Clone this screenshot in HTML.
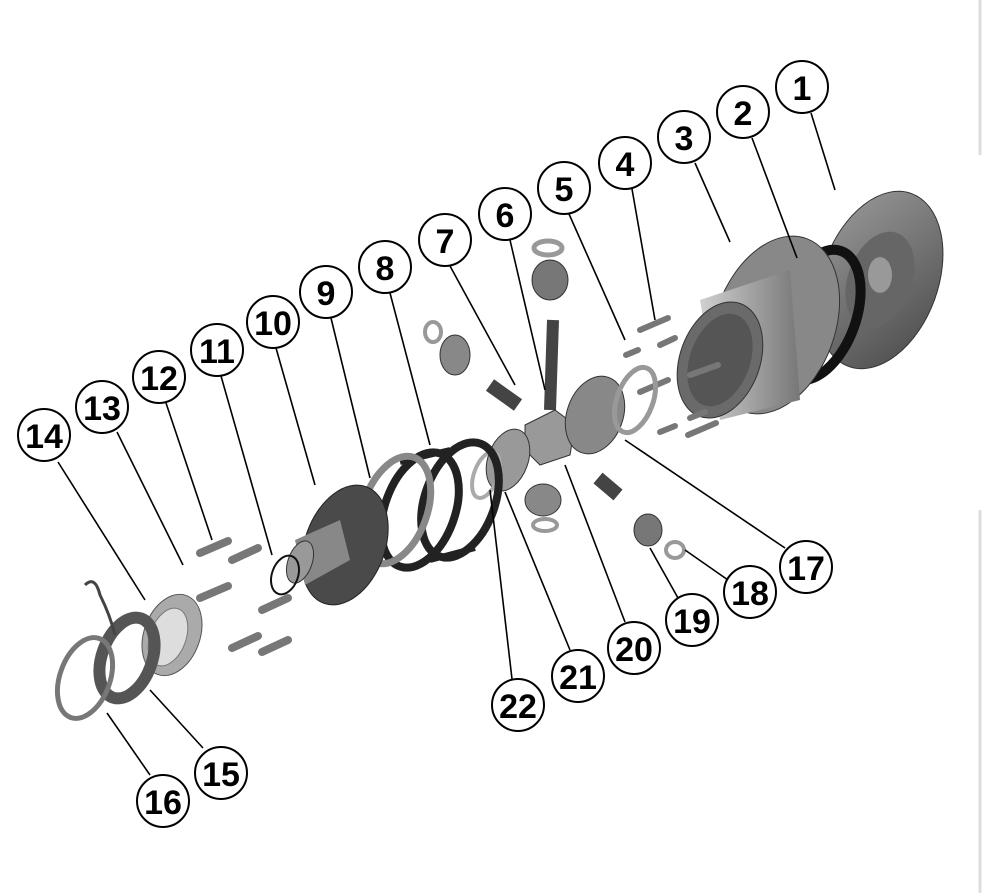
<!DOCTYPE html>
<html><head><meta charset="utf-8"><style>
html,body{margin:0;padding:0;background:#fff;width:982px;height:893px;overflow:hidden}
svg{display:block}
text{font-family:"Liberation Sans",Arial,sans-serif;font-weight:bold;font-size:34px;text-anchor:middle}
</style></head><body>
<svg width="982" height="893" viewBox="0 0 982 893">
<defs>
<linearGradient id="g1" x1="0" y1="0" x2="1" y2="1"><stop offset="0" stop-color="#9a9a9a"/><stop offset="1" stop-color="#4a4a4a"/></linearGradient>
<linearGradient id="g2" x1="0" y1="0" x2="1" y2="0"><stop offset="0" stop-color="#d0d0d0"/><stop offset="1" stop-color="#777"/></linearGradient>
</defs>
<line x1="980" y1="0" x2="980" y2="155" stroke="#ddd" stroke-width="3"/>
<line x1="980" y1="510" x2="980" y2="893" stroke="#ddd" stroke-width="3"/>
<ellipse cx="880" cy="280" rx="58" ry="92" transform="rotate(20 880 280)" fill="url(#g1)" stroke="#333"/>
<ellipse cx="880" cy="280" rx="32" ry="50" transform="rotate(20 880 280)" fill="#666"/>
<ellipse cx="880" cy="275" rx="12" ry="18" fill="#999"/>
<ellipse cx="818" cy="315" rx="38" ry="68" transform="rotate(20 818 315)" fill="none" stroke="#111" stroke-width="10"/>
<ellipse cx="775" cy="325" rx="60" ry="92" transform="rotate(20 775 325)" fill="#888" stroke="#333"/>
<path d="M700 300 L790 270 L800 400 L720 420 Z" fill="url(#g2)"/>
<ellipse cx="720" cy="360" rx="40" ry="60" transform="rotate(20 720 360)" fill="#6a6a6a" stroke="#333"/>
<ellipse cx="720" cy="360" rx="30" ry="48" transform="rotate(20 720 360)" fill="#555"/>
<g stroke="#777" stroke-width="6" stroke-linecap="round">
<line x1="640" y1="330" x2="668" y2="318"/><line x1="626" y1="355" x2="638" y2="350"/><line x1="660" y1="345" x2="675" y2="338"/>
<line x1="640" y1="392" x2="668" y2="380"/><line x1="690" y1="375" x2="718" y2="365"/>
<line x1="660" y1="432" x2="675" y2="426"/><line x1="690" y1="418" x2="705" y2="412"/><line x1="688" y1="435" x2="716" y2="423"/>
</g>
<line x1="553" y1="320" x2="550" y2="410" stroke="#444" stroke-width="12"/>
<ellipse cx="548" cy="248" rx="14" ry="7" fill="none" stroke="#999" stroke-width="5"/>
<ellipse cx="550" cy="280" rx="18" ry="20" fill="#777" stroke="#333"/>
<ellipse cx="455" cy="355" rx="15" ry="20" fill="#888" stroke="#333"/>
<ellipse cx="433" cy="332" rx="8" ry="10" fill="none" stroke="#999" stroke-width="4"/>
<line x1="490" y1="385" x2="518" y2="405" stroke="#444" stroke-width="14"/>
<path d="M525 425 L555 410 L575 425 L570 455 L540 465 L525 450 Z" fill="#999" stroke="#333"/>
<ellipse cx="595" cy="415" rx="28" ry="40" transform="rotate(20 595 415)" fill="#888" stroke="#333"/>
<ellipse cx="635" cy="400" rx="18" ry="34" transform="rotate(20 635 400)" fill="none" stroke="#999" stroke-width="5"/>
<line x1="598" y1="478" x2="618" y2="495" stroke="#444" stroke-width="14"/>
<ellipse cx="508" cy="460" rx="20" ry="32" transform="rotate(20 508 460)" fill="#999" stroke="#333"/>
<ellipse cx="486" cy="475" rx="12" ry="24" transform="rotate(20 486 475)" fill="none" stroke="#aaa" stroke-width="4"/>
<ellipse cx="543" cy="500" rx="18" ry="16" fill="#888" stroke="#333"/>
<ellipse cx="545" cy="525" rx="12" ry="6" fill="none" stroke="#999" stroke-width="4"/>
<ellipse cx="648" cy="530" rx="14" ry="16" fill="#777" stroke="#333"/>
<ellipse cx="675" cy="550" rx="9" ry="8" fill="none" stroke="#999" stroke-width="4"/>
<ellipse cx="460" cy="500" rx="35" ry="60" transform="rotate(20 460 500)" fill="none" stroke="#222" stroke-width="8"/>
<ellipse cx="420" cy="510" rx="35" ry="60" transform="rotate(20 420 510)" fill="none" stroke="#222" stroke-width="8"/>
<line x1="400" y1="462" x2="450" y2="450" stroke="#222" stroke-width="6"/>
<line x1="430" y1="560" x2="475" y2="548" stroke="#222" stroke-width="6"/>
<ellipse cx="395" cy="510" rx="32" ry="56" transform="rotate(20 395 510)" fill="none" stroke="#888" stroke-width="7"/>
<ellipse cx="345" cy="545" rx="40" ry="62" transform="rotate(20 345 545)" fill="#4a4a4a" stroke="#222"/>
<path d="M295 540 L340 520 L350 560 L305 585 Z" fill="#888"/>
<ellipse cx="300" cy="562" rx="12" ry="22" transform="rotate(20 300 562)" fill="#999" stroke="#333"/>
<ellipse cx="285" cy="575" rx="13" ry="20" transform="rotate(20 285 575)" fill="none" stroke="#111" stroke-width="2"/>
<g stroke="#777" stroke-width="8" stroke-linecap="round">
<line x1="200" y1="553" x2="228" y2="541"/><line x1="232" y1="560" x2="258" y2="548"/>
<line x1="200" y1="598" x2="228" y2="586"/><line x1="262" y1="610" x2="288" y2="598"/>
<line x1="232" y1="648" x2="258" y2="636"/><line x1="262" y1="652" x2="288" y2="640"/>
</g>
<ellipse cx="172" cy="635" rx="28" ry="42" transform="rotate(20 172 635)" fill="#aaa" stroke="#555"/>
<ellipse cx="168" cy="637" rx="18" ry="30" transform="rotate(20 168 637)" fill="#ddd" stroke="#777"/>
<ellipse cx="127" cy="658" rx="25" ry="42" transform="rotate(20 127 658)" fill="none" stroke="#555" stroke-width="12"/>
<path d="M85 585 Q95 575 100 595 Q110 615 115 635" fill="none" stroke="#444" stroke-width="3"/>
<ellipse cx="85" cy="678" rx="25" ry="42" transform="rotate(20 85 678)" fill="none" stroke="#777" stroke-width="5"/>
<g stroke="#000" stroke-width="1.6">
<line x1="811" y1="113" x2="835" y2="190"/>
<line x1="752" y1="138" x2="797" y2="258"/>
<line x1="695" y1="163" x2="730" y2="242"/>
<line x1="632" y1="189" x2="655" y2="320"/>
<line x1="569" y1="214" x2="625" y2="340"/>
<line x1="510" y1="240" x2="545" y2="390"/>
<line x1="450" y1="266" x2="515" y2="385"/>
<line x1="390" y1="293" x2="430" y2="445"/>
<line x1="331" y1="318" x2="370" y2="478"/>
<line x1="276" y1="348" x2="315" y2="485"/>
<line x1="221" y1="376" x2="272" y2="555"/>
<line x1="166" y1="403" x2="212" y2="540"/>
<line x1="117" y1="432" x2="183" y2="565"/>
<line x1="58" y1="462" x2="145" y2="600"/>
<line x1="150" y1="690" x2="203" y2="748"/>
<line x1="107" y1="713" x2="150" y2="775"/>
<line x1="625" y1="440" x2="785" y2="548"/>
<line x1="685" y1="550" x2="728" y2="580"/>
<line x1="650" y1="548" x2="678" y2="598"/>
<line x1="565" y1="465" x2="625" y2="622"/>
<line x1="505" y1="492" x2="570" y2="650"/>
<line x1="490" y1="490" x2="512" y2="679"/>
</g>
<g fill="#fff" stroke="#000" stroke-width="2">
<circle cx="802" cy="87" r="26"/><circle cx="743" cy="112" r="26"/><circle cx="684" cy="137" r="26"/>
<circle cx="625" cy="163" r="26"/><circle cx="564" cy="188" r="26"/><circle cx="505" cy="214" r="26"/>
<circle cx="445" cy="240" r="26"/><circle cx="385" cy="267" r="26"/><circle cx="326" cy="292" r="26"/>
<circle cx="273" cy="322" r="26"/><circle cx="217" cy="350" r="26"/><circle cx="159" cy="377" r="26"/>
<circle cx="102" cy="407" r="26"/><circle cx="44" cy="435" r="26"/><circle cx="221" cy="773" r="26"/>
<circle cx="163" cy="801" r="26"/><circle cx="806" cy="567" r="26"/><circle cx="750" cy="592" r="26"/>
<circle cx="692" cy="620" r="26"/><circle cx="634" cy="648" r="26"/><circle cx="578" cy="676" r="26"/>
<circle cx="518" cy="705" r="26"/>
</g>
<g>
<text x="802" y="100">1</text><text x="743" y="125">2</text><text x="684" y="150">3</text>
<text x="625" y="176">4</text><text x="564" y="201">5</text><text x="505" y="227">6</text>
<text x="445" y="253">7</text><text x="385" y="280">8</text><text x="326" y="305">9</text>
<text x="273" y="335">10</text><text x="217" y="363">11</text><text x="159" y="390">12</text>
<text x="102" y="420">13</text><text x="44" y="448">14</text><text x="221" y="786">15</text>
<text x="163" y="814">16</text><text x="806" y="580">17</text><text x="750" y="605">18</text>
<text x="692" y="633">19</text><text x="634" y="661">20</text><text x="578" y="689">21</text>
<text x="518" y="718">22</text>
</g>
</svg>
</body></html>
